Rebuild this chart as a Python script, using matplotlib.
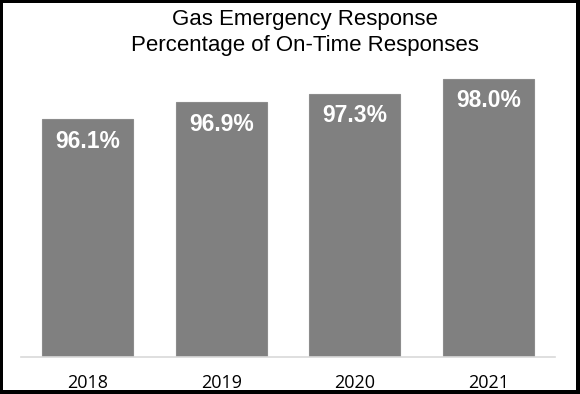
import matplotlib.pyplot as plt
from matplotlib.patches import Rectangle

years = ['2018', '2019', '2020', '2021']
on_time = [96.1, 96.9, 97.3, 98.0]

W, H = 580, 394
fig = plt.figure(figsize=(W / 100, H / 100), dpi=100)
fig.patch.set_facecolor('black')
# white panel inside the black frame
fig.patches.append(Rectangle((3 / W, (H - 390) / H), 573 / W, 387 / H,
                             transform=fig.transFigure, facecolor='white',
                             edgecolor='none', zorder=-1))

ax = fig.add_axes([21 / W, 37 / H, 534 / W, 321.3 / H])
ax.set_zorder(1)
ax.set_facecolor('none')
x = list(range(len(years)))
ax.bar(x, on_time, width=0.68, color='#808080', edgecolor='#8c8c8c', linewidth=0.8)
ax.set_xlim(-0.5, 3.5)
ax.set_ylim(85, 100)

for xi, v in zip(x, on_time):
    ax.annotate(f'{v:.1f}%', (xi, v), xytext=(0, -7.5), textcoords='offset points',
                ha='center', va='top', color='white', fontsize=16.5, fontweight='bold',
                family='Liberation Sans')

ax.set_xticks(x)
ax.set_xticklabels(years, family='Open Sans', fontsize=13)
ax.tick_params(axis='x', length=0, pad=12)
ax.set_yticks([])
for s in ['top', 'right', 'left']:
    ax.spines[s].set_visible(False)
ax.spines['bottom'].set_color('#d9d9d9')
ax.spines['bottom'].set_linewidth(1.2)

fig.text(305 / W, 1 - 25.5 / H, 'Gas Emergency Response', ha='center', va='baseline',
         fontsize=16, family='Liberation Sans')
fig.text(305 / W, 1 - 51 / H, 'Percentage of On-Time Responses', ha='center', va='baseline',
         fontsize=16, family='Liberation Sans')

fig.savefig('out.png', dpi=100, facecolor=fig.get_facecolor())
